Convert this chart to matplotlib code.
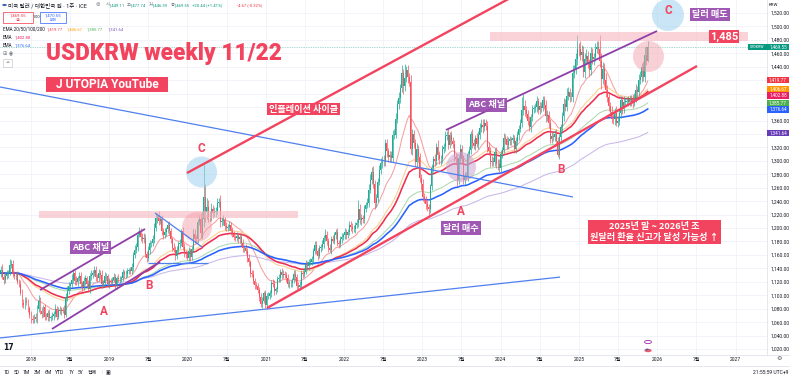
import numpy as np
import pandas as pd
import matplotlib
matplotlib.use('Agg')
import matplotlib.pyplot as plt
import matplotlib.dates as mdates
from matplotlib.patches import Ellipse, Rectangle, Circle
from matplotlib.lines import Line2D
from datetime import datetime

plt.rcParams['font.family'] = ['Noto Sans CJK KR', 'DejaVu Sans']
UI = ['Roboto', 'Noto Sans CJK KR', 'DejaVu Sans']

# ---------------- weekly USDKRW data ----------------
close_2017 = [1133,1138,1127,1122, 1129,1132,1133,1145, 1146,1131,1129,1131,1120,
              1117,1104,1088,1085, 1092,1090,1081,1071]
hi_2017 = [6,5,8,4, 5,6,4,9, 6,7,5,4,5, 4,6,5,7, 5,6,4,3]
lo_2017 = [4,6,3,5, 4,5,6,3, 5,4,5,6,4, 5,4,6,4, 5,4,6,5]

close_2018 = [1065,1063,1068,1064,1079, 1092,1077,1072,1082, 1068,1067,1074,1066,
              1067,1069,1072,1080,1068, 1078,1077,1078,1077, 1071,1098,1107,1114,
              1116,1123,1133,1121,1119, 1125,1129,1117,1112, 1121,1125,1117,1110,
              1128,1130,1133,1138,1127, 1125,1133,1130,1116, 1118,1128,1128,1116,1121]
hi_2018 = [5,6,4,5,7, 8,6,5,4, 5,6,4,5, 4,6,5,7,4, 5,6,4,5, 8,6,7,5, 4,8,6,5,7,
           4,6,5,4, 6,5,4,6, 5,8,4,6,5, 4,6,5,7, 4,6,5,4,5]
lo_2018 = [6,4,5,4,5, 4,5,6,4, 5,4,6,5, 5,4,6,4,5, 4,5,6,4, 5,4,6,5, 6,4,5,6,4,
           5,4,6,5, 4,6,5,4, 6,5,4,5,6, 5,4,6,5, 4,5,6,4,5]

close_2019 = [1120,1123,1127,1115, 1125,1124,1124,1125, 1134,1131,1131,1136,
              1137,1136,1142,1160,1168, 1172,1190,1194,1187, 1183,1185,1161,1156,
              1167,1177,1177,1183,1200, 1215,1220,1211,1213, 1195,1189,1194,1198,1204,
              1195,1183,1171,1168, 1159,1167,1176,1178, 1195,1172,1163,1161,1156]
hi_2019 = [5,4,6,5, 4,6,5,4, 5,4,6,5, 4,5,6,5,7, 6,5,8,6, 5,7,6,5, 6,5,4,6,7,
           8,3,6,5, 7,5,6,4,5, 6,5,4,6, 5,6,4,5, 4,6,5,4,5]
lo_2019 = [4,5,4,6, 5,4,6,5, 4,6,5,4, 5,4,5,6,4, 5,6,4,7, 6,5,4,6, 5,6,5,4,6,
           5,7,6,5, 6,5,4,6,5, 5,6,5,4, 6,5,4,6, 5,4,6,5,4]

close_2020 = [1166,1157,1169,1191, 1184,1183,1209,1213, 1193,1213,1246,1224,1231,
              1217,1216,1228,1223, 1224,1226,1238,1239, 1209,1210,1212,1203,1200,
              1201,1205,1196,1191, 1186,1185,1188,1183,1187, 1178,1170,1170,1166,
              1155,1149,1133,1131, 1121,1115,1114,1108,1098, 1087,1092,1103,1086]
hi_2020 = [6,5,4,7, 8,6,5,7, 10,12,50,20,14, 10,8,9,7, 8,6,7,6, 10,6,7,5,6,
           5,6,4,5, 5,4,6,5,4, 6,5,4,6, 5,6,4,5, 6,4,5,4,5, 6,5,4,5]
lo_2020 = [5,6,5,4, 6,5,6,5, 8,10,12,15,10, 8,7,6,8, 6,7,5,6, 8,6,5,6,5,
           5,4,6,5, 4,5,4,6,5, 5,6,5,4, 6,5,6,4, 5,6,4,5,6, 5,6,4,5]

close_2021 = [1099,1099,1104,1118, 1117,1107,1109,1124, 1125,1135,1130,1132,1130,
              1125,1116,1118,1118, 1122,1132,1127,1114,1113, 1115,1133,1131,1135,
              1146,1143,1150,1150, 1154,1166,1175,1166,1159, 1170,1172,1176,1185,
              1190,1181,1170,1168, 1183,1181,1190,1194,1178, 1176,1183,1187,1189]
hi_2021 = [5,6,4,5, 6,5,4,5, 6,4,5,6,4, 5,6,4,5, 4,6,5,4,5, 6,5,4,5, 6,5,4,6,
           4,5,6,5,4, 5,4,6,5, 8,5,4,6, 5,6,4,5,6, 4,5,6,4]
lo_2021 = [6,5,4,6, 5,6,5,4, 4,5,6,4,5, 6,4,5,6, 5,4,6,5,4, 5,6,5,4, 4,5,6,5,
           5,6,4,5,6, 4,5,4,6, 5,6,5,4, 6,4,5,6,4, 5,4,6,5]

close_2022 = [1194,1190,1194,1205,1202, 1198,1199,1205,1207, 1228,1212,1215,1213,
              1229,1234,1237,1257, 1272,1284,1266,1237,1245, 1269,1286,1297,1299,
              1298,1326,1314,1305, 1309,1304,1339,1339,1362, 1384,1394,1409,1430,
              1412,1424,1435,1425,1418, 1318,1340,1326,1299, 1318,1305,1275,1265]
hi_2022 = [6,5,4,6,5, 6,5,4,7, 14,8,6,5, 6,5,7,8, 9,7,8,6,5, 6,8,7,8, 10,6,7,5,
           6,5,7,8,9, 6,9,5,12, 6,20,6,8,6, 10,8,6,7, 8,6,7,6]
lo_2022 = [5,6,5,4,6, 5,4,6,5, 5,6,7,5, 6,5,4,6, 5,6,7,8,6, 6,5,6,7, 6,5,8,6,
           7,6,5,6,5, 6,7,8,6, 12,8,6,9,7, 8,10,7,6, 9,6,7,8]

close_2023 = [1246,1242,1236,1231,1228, 1262,1290,1302,1300, 1321,1308,1302,1302,
              1318,1320,1337,1339, 1324,1338,1330,1325,1305, 1303,1271,1304,1317,
              1303,1272,1277,1276,1310, 1316,1340,1326,1322, 1334,1325,1339,1349,
              1354,1350,1356,1352,1320, 1314,1298,1300,1299, 1313,1295,1296,1289]
hi_2023 = [8,6,5,6,5, 4,6,5,8, 6,10,7,6, 5,6,7,5, 8,5,6,5,6, 5,6,4,8, 6,5,7,6,5,
           6,4,7,6, 5,7,6,8, 9,8,7,6,7, 8,6,7,5, 6,8,7,6]
lo_2023 = [6,5,7,6,12, 6,5,7,8, 6,7,6,8, 5,7,6,6, 6,5,7,6,5, 6,8,5,6, 7,6,8,5,6,
           5,6,7,5, 6,5,7,6, 6,8,5,6,7, 6,7,5,6, 7,5,8,6]

close_2024 = [1310,1316,1334,1332,1323, 1329,1332,1331,1334, 1317,1330,1338,1348,
              1356,1375,1382,1375,1370, 1360,1351,1365,1377, 1378,1380,1389,1376,
              1382,1379,1390,1383,1366, 1368,1357,1333,1337, 1335,1340,1330,1308,1335,
              1350,1367,1385,1380, 1397,1402,1395,1395, 1430,1435,1451,1467,1466]
hi_2024 = [6,5,8,6,5, 6,5,4,6, 5,6,7,5, 6,20,18,8,7, 6,7,5,6, 5,6,7,5, 6,5,6,7,8,
           8,6,5,6, 5,6,7,6,5, 5,6,8,7, 12,8,6,7, 12,8,10,20,8]
lo_2024 = [5,6,5,7,6, 6,5,7,5, 6,5,6,7, 5,6,7,8,6, 7,6,8,5, 6,5,7,6, 6,7,5,6,8,
           7,8,6,7, 6,5,7,3,6, 6,5,7,6, 6,7,8,6, 8,7,6,8,10]

close_2025 = [1458,1462,1432,1452, 1456,1445,1435,1460, 1451,1454,1467,1470,1467,
              1449,1422,1437,1421, 1405,1395,1381,1373, 1363,1362,1371,1357,1360,
              1371,1390,1377,1388, 1388,1388,1392,1388, 1392,1386,1394,1406,1402,
              1421,1425,1439,1425, 1457,1449.11,1469.55]
hi_2025 = [12,10,9,8, 10,8,7,9, 8,7,9,8,8, 20,12,10,8, 10,8,7,6, 8,6,7,10,6,
           6,7,6,8, 6,7,5,6, 6,8,7,8,6, 8,9,7,10, 12,14,8.19]
lo_2025 = [8,10,7,9, 8,7,9,8, 7,8,6,7,8, 10,15,8,9, 10,8,7,6, 6,7,8,5,6,
           6,7,8,6, 6,5,7,6, 6,7,5,6,7, 6,7,8,6, 7,6,2.52]

first_week = '2017-08-07'
ema_periods = [20, 50, 100, 200]
ema_extra = [60, 120]
ema_last_labels = [('1,419.77', 1419.77, '#f23645'), ('1,406.67', 1406.67, '#ff9800'),
                   ('1,402.88', 1402.88, '#e91e63'), ('1,385.77', 1385.77, '#4caf50'),
                   ('1,376.64', 1376.64, '#2962ff'), ('1,341.64', 1341.64, '#673ab7')]
last_price = 1469.55
price_ticks = list(range(1020, 1521, 20))
time_ticks = ['2018-01-01', '2018-07-01', '2019-01-01', '2019-07-01', '2020-01-01', '2020-07-01',
              '2021-01-01', '2021-07-01', '2022-01-01', '2022-07-01', '2023-01-01', '2023-07-01',
              '2024-01-01', '2024-07-01', '2025-01-01', '2025-07-01', '2026-01-01', '2026-07-01',
              '2027-01-01']
time_labels = ['2018', '7월', '2019', '7월', '2020', '7월', '2021', '7월', '2022', '7월',
               '2023', '7월', '2024', '7월', '2025', '7월', '2026', '7월', '2027']

close = (close_2017 + close_2018 + close_2019 + close_2020 + close_2021 + close_2022 +
         close_2023 + close_2024 + close_2025)
wick_hi = hi_2017 + hi_2018 + hi_2019 + hi_2020 + hi_2021 + hi_2022 + hi_2023 + hi_2024 + hi_2025
wick_lo = lo_2017 + lo_2018 + lo_2019 + lo_2020 + lo_2021 + lo_2022 + lo_2023 + lo_2024 + lo_2025

close = np.array(close, float)
opn = np.concatenate([[close[0]], close[:-1]])
high = np.maximum(opn, close) + np.array(wick_hi, float)
low = np.minimum(opn, close) - np.array(wick_lo, float)
dates = pd.date_range(first_week, periods=len(close), freq='W-MON')
xd = mdates.date2num(dates.to_pydatetime())

# ---------------- figure ----------------
W, H = 790, 378
PANE_R, PANE_B = 767, 355
fig = plt.figure(figsize=(W / 100, H / 100), dpi=100)
fig.patch.set_facecolor('white')
ax = fig.add_axes([0, 1 - PANE_B / H, PANE_R / W, PANE_B / H])

base = mdates.date2num(datetime(2018, 1, 1))
PX_YEAR = 78.3
def yr(t):
    return base + (t - 2018.0) * 365.25

x_left = yr(2018 - 31 / PX_YEAR)
x_right = yr(2018 + (PANE_R - 31) / PX_YEAR)
PX_PRICE = 0.672
y_top = 1520 + 13 / PX_PRICE
y_bot = 1520 - (PANE_B - 13) / PX_PRICE
ax.set_xlim(x_left, x_right)
ax.set_ylim(y_bot, y_top)
for s in ax.spines.values():
    s.set_visible(False)

def py(p):
    return (y_top - p) / (y_top - y_bot) * PANE_B

# right-axis tag positions (de-overlapped like the platform does)
tag_pos = []
min_gap = 6.3
for txt, val, col in ema_last_labels:
    yy = py(val)
    if tag_pos and yy - tag_pos[-1] < min_gap:
        yy = tag_pos[-1] + min_gap
    tag_pos.append(yy)
all_tags = tag_pos + [py(last_price)]

ax.set_yticks(price_ticks)
ax.set_yticklabels(['' if min(abs(py(v) - t) for t in all_tags) < 6.0 else f'{v:,.2f}'
                    for v in price_ticks])
ax.yaxis.tick_right()
ax.set_xticks([mdates.date2num(datetime.strptime(d, '%Y-%m-%d')) for d in time_ticks])
ax.set_xticklabels(time_labels)
ax.tick_params(axis='both', length=0, labelsize=3.6, labelcolor='#131722',
               labelfontfamily=UI)
ax.tick_params(axis='y', pad=2.2)
ax.tick_params(axis='x', pad=1.6)
ax.grid(True, color='#f0f3fa', lw=0.6, zorder=0)
ax.set_axisbelow(True)

# EMAs
cs = pd.Series(close)
ema_style = {20: ('#f6a0a0', 0.75), 50: ('#fcd08f', 0.75), 100: ('#acd9ae', 0.75),
             200: ('#c9b8e8', 0.75), 60: ('#ec2f52', 1.15), 120: ('#2962ff', 1.15)}
for n in ema_periods + ema_extra:
    e = cs.ewm(span=n, adjust=False).mean()
    col, lw = ema_style[n]
    ax.plot(xd, e, color=col, lw=lw, zorder=3)

# candles
UP, DN = '#22ab94', '#f7525f'
cols = np.where(close >= opn, UP, DN)
ax.vlines(xd, low, high, colors=cols, lw=0.5, zorder=4)
body_h = np.maximum(np.abs(close - opn), 0.6)
ax.bar(xd, body_h, bottom=np.minimum(opn, close), width=4.6, color=cols, lw=0, zorder=5)

ax.axhline(last_price, color='#089981', lw=0.5, ls=(0, (1, 1.5)), alpha=0.7, zorder=6)

# ---------------- drawings ----------------
RED = '#f2445e'
PURP = '#8e3fa8'
BLUE = '#4f80ee'

def seg(p0, p1, color, lw):
    ax.plot([yr(p0[0]), yr(p1[0])], [p0[1], p1[1]], color=color, lw=lw, zorder=8,
            solid_capstyle='butt')

seg((2017.604, 1409.9), (2024.922, 1246.2), BLUE, 0.9)
seg((2017.604, 1036.4), (2024.756, 1127.0), BLUE, 0.9)
seg((2019.584, 1222.4), (2020.184, 1171.8), BLUE, 0.9)
seg((2019.494, 1148.4), (2020.261, 1148.4), BLUE, 0.9)
seg((2019.992, 1281.9), (2024.10, 1541.0), RED, 1.7)
seg((2021.014, 1081.0), (2026.506, 1441.1), RED, 1.7)
seg((2018.115, 1107.8), (2019.456, 1198.6), PURP, 1.3)
seg((2018.268, 1049.8), (2019.648, 1149.5), PURP, 1.3)
seg((2023.300, 1345.9), (2025.995, 1493.2), PURP, 1.3)

def band(t0, t1, p0, p1):
    ax.add_patch(Rectangle((yr(t0), p0), yr(t1) - yr(t0), p1 - p0, fc='#f7b7c0',
                           ec='none', alpha=0.6, zorder=7))
band(2018.102, 2021.410, 1214.9, 1225.4)
band(2023.862, 2027.157, 1478.3, 1491.7)

DAY_PX = PX_YEAR / 365.25
def circ(t, p, r, color, alpha):
    ax.add_patch(Ellipse((yr(t), p), 2 * r / DAY_PX, 2 * r / PX_PRICE, fc=color,
                         ec='none', alpha=alpha, zorder=7))
circ(2020.178, 1283.4, 15.5, '#9fd3f0', 0.55)
circ(2020.120, 1201.5, 15.0, '#f5a3ae', 0.5)
circ(2023.492, 1290.8, 15.0, '#c9a6d3', 0.55)
circ(2026.135, 1517.0, 16.0, '#9fd3f0', 0.55)
circ(2025.886, 1455.3, 15.5, '#f5a3ae', 0.5)

def letter(t, p, s):
    ax.text(yr(t), p, s, color=RED, fontsize=8.5, fontweight='bold', ha='center',
            va='center', zorder=11, family=['Roboto', 'DejaVu Sans'])
letter(2020.171, 1319.0, 'C')
letter(2018.932, 1076.5, 'A')
letter(2019.507, 1113.8, 'B')
letter(2023.492, 1223.9, 'A')
letter(2024.769, 1286.4, 'B')
letter(2026.135, 1523.0, 'C')

def tag(t, p, s, fc, size=6.6, pad=0.18, alpha=1.0, ls=1.2):
    ax.text(yr(t), p, s, color='white', fontsize=size, fontweight='bold', ha='center',
            va='center', zorder=12, linespacing=ls,
            bbox=dict(boxstyle=f'square,pad={pad}', fc=fc, ec='none', alpha=alpha))
tag(2018.760, 1171.0, 'ABC 채널', '#9a4fb0', pad=0.25, alpha=0.95)
tag(2021.480, 1377.1, '인플레이션 사이클', RED)
tag(2023.817, 1383.1, 'ABC 채널', '#9a4fb0', pad=0.25, alpha=0.95)
tag(2023.492, 1200.0, '달러 매수', '#9a4fb0', pad=0.25, alpha=0.95)
tag(2026.672, 1517.8, '달러 매도', '#9a4fb0', pad=0.25, alpha=0.95)
ax.text(yr(2026.851), 1485, '1,485', color='white', fontsize=8, fontweight='bold',
        ha='center', va='center', zorder=12, family=['Roboto', 'DejaVu Sans'],
        bbox=dict(boxstyle='square,pad=0.12', fc=RED, ec='none'))
tag(2025.963, 1194.0, '2025년 말 ~ 2026년 초\n원달러 환율 신고가 달성 가능성 ↑', RED,
    size=6.6, pad=0.25, ls=1.3)

# ---------------- chrome (pixel placed) ----------------
def fx(x):
    return x / W
def fy(y):
    return 1 - y / H
def T(x, y, s, color='#131722', size=3.6, ha='left', weight='normal', family=UI, **kw):
    fig.text(fx(x), fy(y), s, color=color, fontsize=size, ha=ha, va='center',
             fontweight=weight, family=family, **kw)
def R(x0, y0, x1, y1, fc='none', ec='none', lw=0.5, z=20):
    fig.add_artist(Rectangle((fx(x0), fy(y1)), (x1 - x0) / W, (y1 - y0) / H,
                             transform=fig.transFigure, fc=fc, ec=ec, lw=lw, zorder=z))

# separators
fig.add_artist(Line2D([0, 1], [fy(PANE_B), fy(PANE_B)], color='#e0e3eb', lw=0.6))
fig.add_artist(Line2D([fx(PANE_R), fx(PANE_R)], [fy(0), fy(PANE_B)], color='#e0e3eb', lw=0.6))
fig.add_artist(Line2D([0, 1], [fy(366), fy(366)], color='#e0e3eb', lw=0.6))

# title texts
T(46, 53.5, 'USDKRW weekly 11/22', color=RED, size=16.3, weight='black',
  family=['Roboto', 'DejaVu Sans'])
R(46, 77, 168, 92, fc=RED)
T(107, 84.7, 'J UTOPIA YouTube', color='white', size=8.6, ha='center', weight='bold',
  family=['Roboto', 'DejaVu Sans'], zorder=21)

# legend
fig.add_artist(Circle((fx(4.5), fy(5)), 2.3 / W, transform=fig.transFigure, fc='#3d63b8', ec='none'))
T(8, 5, '미국 달러 / 대한민국 원 · 1주 · ICE', size=4.0)
T(96, 5, '⊜', color='#787b86', size=4, family=['DejaVu Sans'])
TEAL, TRED = '#089981', '#f23645'
LV = 3.0
for lx, lab, vx, val in [(105.5, '시', 108.8, '1,449.11'), (126.5, '고', 129.8, '1,477.74'),
                         (148.5, '저', 151.8, '1,446.59'), (170.5, '종', 173.8, '1,469.55')]:
    T(lx, 5, lab, color='#787b86', size=LV)
    T(vx, 5, val, color=TEAL, size=LV)
T(192, 5, '+20.44 (+1.41%)', color=TEAL, size=LV)
T(237, 5, '-4.67 (-0.32%)', color=TRED, size=LV)

R(3, 12, 33, 23, ec=TRED, lw=0.5)
T(18, 15.5, '1,469.55', color=TRED, size=3.2, ha='center')
T(18, 20.3, '셀', color=TRED, size=2.8, ha='center')
T(36.5, 17.5, '1.00', color='#131722', size=2.8, ha='center')
R(40, 12, 66, 23, ec='#2962ff', lw=0.5)
T(53, 15.5, '1,470.55', color='#2962ff', size=3.2, ha='center')
T(53, 20.3, '바이', color='#2962ff', size=2.8, ha='center')

T(3, 29, 'EMA 20/50/100/200', size=3.3)
T(47, 29, '1,419.77', color='#f23645', size=LV)
T(67, 29, '1,406.67', color='#ff9800', size=LV)
T(87, 29, '1,385.77', color='#4caf50', size=LV)
T(108, 29, '1,341.64', color='#7e57c2', size=LV)
T(3, 37.5, 'EMA', size=3.3)
T(14.5, 37.5, '1,402.88', color='#e91e63', size=LV)
T(3, 45.5, 'EMA', size=3.3)
T(14.5, 45.5, '1,376.64', color='#2962ff', size=LV)
T(3, 54, '⊞ ◉', color='#787b86', size=3.6, family=['DejaVu Sans'])
R(3, 59.5, 12, 67, ec='#c8cad0', lw=0.5)
T(7.5, 63.5, '^', color='#131722', size=3.6, ha='center', family=['DejaVu Sans'])

# right axis tags
for (txt, val, col), yy in zip(ema_last_labels, tag_pos):
    R(PANE_R, yy - 3.1, 789, yy + 3.1, fc=col, z=22)
    T(778, yy, txt, color='white', size=3.3, ha='center', zorder=23)
yy = py(last_price)
R(748, yy - 3.1, PANE_R - 0.5, yy + 3.1, fc='#089981', z=22)
T(757, yy, 'USDKRW', color='white', size=2.6, ha='center', zorder=23)
R(PANE_R, yy - 3.1, 789, yy + 3.1, fc='#089981', z=22)
T(778, yy, '1,469.55', color='white', size=3.3, ha='center', zorder=23)
T(773, 5, 'KRW', size=3.2, ha='center')

# bottom chrome
T(3, 347, '17', color='#131722', size=5.5, weight='bold', family=['DejaVu Sans'])
for bx, s in [(7, '1D'), (17, '5D'), (26, '1M'), (37, '3M'), (48, '6M'), (60, 'YTD'),
              (71, '1Y'), (80, '5Y'), (92, '전체')]:
    T(bx, 372.5, s, ha='center', size=3.6)
T(102, 372.5, '|', color='#c8cad0', size=4, ha='center')
T(108, 372.5, '▣', color='#131722', size=3.6, ha='center', family=['DejaVu Sans'])
T(788, 372.5, '21:55:59 UTC+9', ha='right', size=3.6)
T(779, 359, '⚙', color='#555', size=4.5, ha='center', family=['DejaVu Sans'])
fig.add_artist(Circle((fx(648), fy(342)), 3.4 / W, transform=fig.transFigure, fc='white',
                      ec='#9c27b0', lw=0.6))
fig.add_artist(Circle((fx(648), fy(350.5)), 3.6 / W, transform=fig.transFigure, fc='#f05a6e',
                      ec='none'))
fig.add_artist(Circle((fx(647), fy(349.5)), 1.7 / W, transform=fig.transFigure, fc='#3d63b8',
                      ec='none'))

fig.savefig('out.png', dpi=100, facecolor='white')
